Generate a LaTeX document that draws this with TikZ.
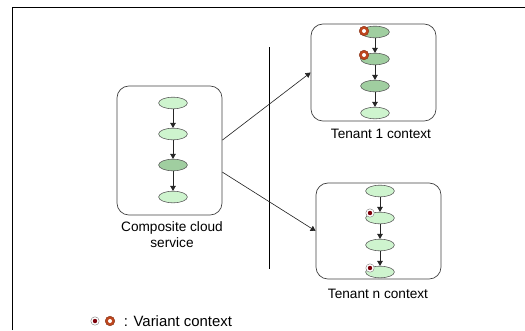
\documentclass[tikz,border=0pt]{standalone}
\usepackage{fontspec}
\setmainfont{Liberation Sans}
\usetikzlibrary{shapes.geometric,arrows.meta}
\definecolor{actlight}{RGB}{206,244,206}
\definecolor{actdark}{RGB}{160,206,160}
\definecolor{ringred}{RGB}{190,70,30}
\definecolor{dotred}{RGB}{125,0,10}
\tikzset{
  activity/.style={ellipse, draw=gray!70!black, fill=actlight, minimum width=0.72cm, minimum height=0.29cm, inner sep=0pt, line width=0.4pt},
  actshade/.style={activity, fill=actdark},
  ctxbox/.style={draw=black!75, rounded corners=0.3cm, line width=0.5pt},
  flow/.style={-{Triangle[length=3.6pt,width=4pt]}, line width=0.45pt, black!85},
  ringmark/.style={circle, draw=ringred!70!black, fill=ringred, line width=0.3pt, minimum size=0.24cm, inner sep=0pt,
    path picture={\fill[white] (path picture bounding box.center) circle (0.05cm);}},
  dotmark/.style={circle, draw=gray, fill=white, line width=0.3pt, minimum size=0.21cm, inner sep=0pt,
    path picture={\fill[dotred] (path picture bounding box.center) circle (0.055cm);}},
  caption/.style={font=\fontsize{9.7}{11.5}\selectfont, align=center}
}
\begin{document}
\begin{tikzpicture}[x=0.025cm, y=-0.025cm]
	\useasboundingbox (0,0) rectangle (525,330);
	% frame and separator
	\draw[line width=0.8pt] (12.5,330) -- (12.5,7.5) -- (525,7.5);
	\draw[line width=0.5pt] (269,47) -- (269,269);
	% composite cloud service
	\node[ctxbox, minimum width=2.625cm, minimum height=3.225cm] at (169.5,150.5) (cs) {};
	\node[activity] at (173,103) (c1) {};
	\node[activity] at (173,134) (c2) {};
	\node[actshade] at (173,165) (c3) {};
	\node[activity] at (173,197) (c4) {};
	\draw[flow] (c1) -- (c2);
	\draw[flow] (c2) -- (c3);
	\draw[flow] (c3) -- (c4);
	\node[caption] at (172,235) (cslabel) {Composite cloud\\service};
	% tenant 1
	\node[ctxbox, minimum width=3.125cm, minimum height=2.425cm] at (373.5,72.5) (tbox) {};
	\node[actshade] at (375,32) (t1) {};
	\node[actshade] at (375,59) (t2) {};
	\node[actshade] at (375,86) (t3) {};
	\node[activity] at (375,113) (t4) {};
	\draw[flow] (t1) -- (t2);
	\draw[flow] (t2) -- (t3);
	\draw[flow] (t3) -- (t4);
	\node[ringmark] at (364,31) (tv1) {};
	\node[ringmark] at (364,55) (tv2) {};
	\node[caption] at (381,134) (tlabel) {Tenant 1 context};
	% tenant n
	\node[ctxbox, minimum width=3.125cm, minimum height=2.4cm] at (378.5,231) (nbox) {};
	\node[activity] at (380,191) (n1) {};
	\node[activity] at (380,218) (n2) {};
	\node[activity] at (380,245) (n3) {};
	\node[activity] at (380,272) (n4) {};
	\draw[flow] (n1) -- (n2);
	\draw[flow] (n2) -- (n3);
	\draw[flow] (n3) -- (n4);
	\node[dotmark] at (370,213) (nv1) {};
	\node[dotmark] at (370,268) (nv2) {};
	\node[caption] at (378,294) (nlabel) {Tenant n context};
	% tenant derivation
	\draw[flow] ([yshift=0.26cm]cs.east) -- (tbox.west);
	\draw[flow] ([yshift=-0.54cm]cs.east) -- (nbox.west);
	% legend
	\node[dotmark] at (95,321) (ldot) {};
	\node[ringmark] at (110,321) (lring) {};
	\node[anchor=west, font=\fontsize{10.6}{12}\selectfont] at (119,321) (ltext) {: Variant context};
\end{tikzpicture}
\end{document}
